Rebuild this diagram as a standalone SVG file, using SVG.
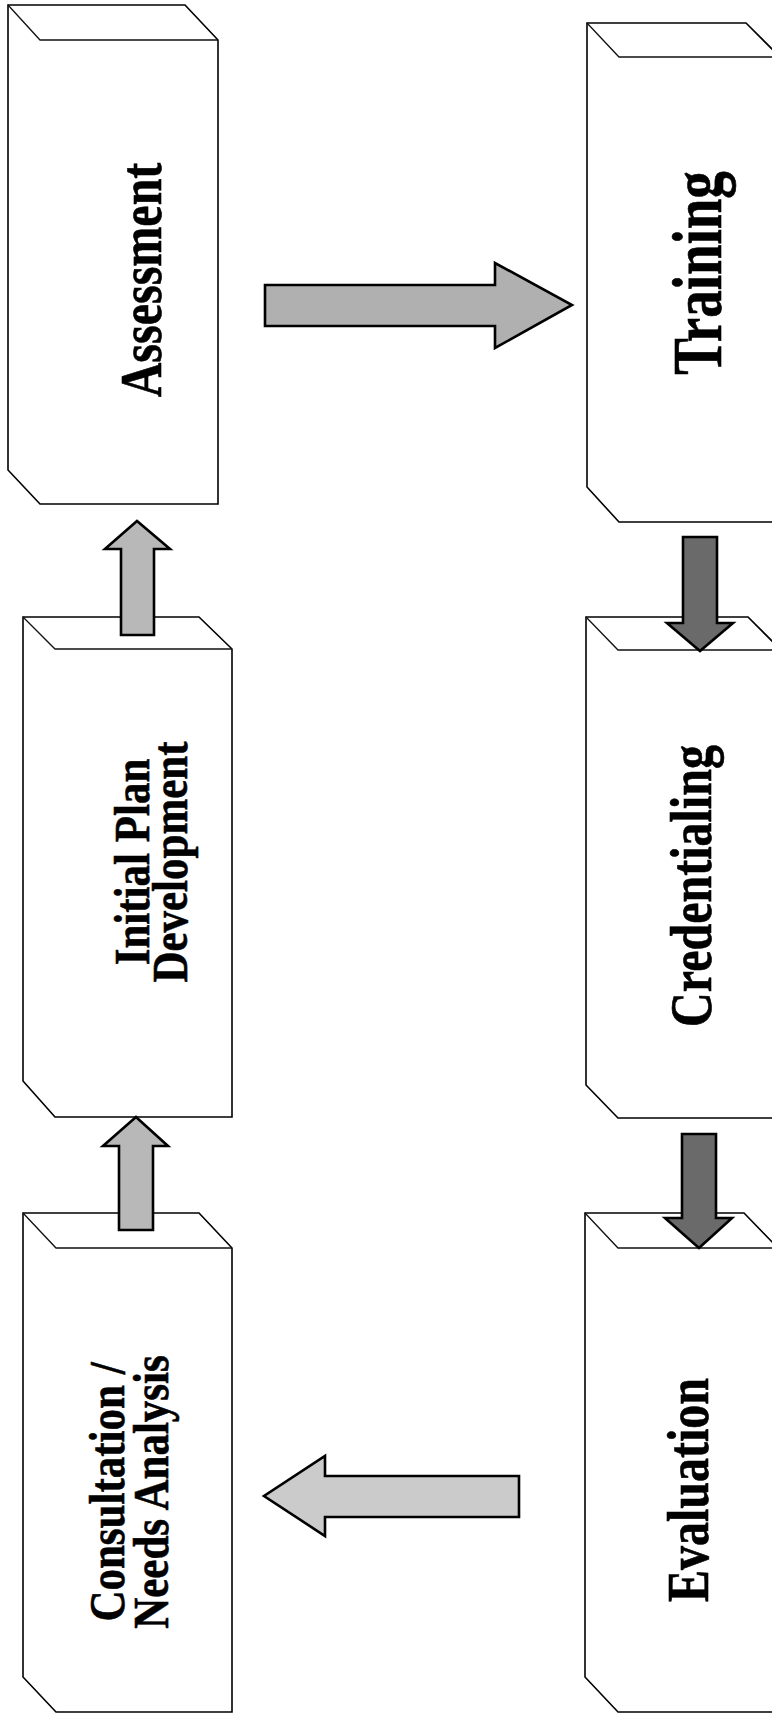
<svg xmlns="http://www.w3.org/2000/svg" width="772" height="1714" viewBox="0 0 772 1714">
<style>
.box{fill:#ffffff;stroke:#000;stroke-width:1.6;stroke-linejoin:miter}
.edge{fill:none;stroke:#111;stroke-width:1.3}
.lbl{font-family:"Liberation Serif","Times New Roman",serif;font-weight:bold;fill:#000;stroke:#000;stroke-width:0.5;text-anchor:middle}
.arr{stroke:#000;stroke-width:2.6;stroke-linejoin:miter}
.light{fill:#b8b8b8}
.mid{fill:#b0b0b0}
.dark{fill:#6a6a6a}
.pale{fill:#cbcbcb}
</style>
<rect width="772" height="1714" fill="#ffffff"/>
<g id="node-assessment">
<path class="box" d="M8,5 H185 L218,40 V504 H40 L8,470 Z"/>
<path class="edge" d="M8,5 L40,40 H218"/>
<text class="lbl" font-size="48" transform="translate(161,280) rotate(-90) scale(1,1.25)">Assessment</text>
</g>
<g id="node-initial-plan">
<path class="box" d="M23,617 H199 L232,649 V1117 H55 L23,1081 Z"/>
<path class="edge" d="M23,617 L55,649 H232"/>
<text class="lbl" font-size="43" transform="translate(149,862) rotate(-90) scale(1,1.2)">Initial Plan</text>
<text class="lbl" font-size="43" transform="translate(187,862) rotate(-90) scale(1,1.2)">Development</text>
</g>
<g id="node-consultation">
<path class="box" d="M23,1213 H199 L232,1248 V1712 H56 L23,1677 Z"/>
<path class="edge" d="M23,1213 L56,1248 H232"/>
<text class="lbl" font-size="43" transform="translate(124,1492) rotate(-90) scale(1,1.2)">Consultation /</text>
<text class="lbl" font-size="43" transform="translate(168,1492) rotate(-90) scale(1,1.2)">Needs Analysis</text>
</g>
<g id="node-training">
<path class="box" d="M587,23 H746 L780,57 V522 H619 L587,487 Z"/>
<path class="edge" d="M587,23 L619,57 H780"/>
<text class="lbl" font-size="55" transform="translate(721,273) rotate(-90) scale(1,1.25)">Training</text>
</g>
<g id="node-credentialing">
<path class="box" d="M586,617 H748 L781,650 V1118 H618 L586,1085 Z"/>
<path class="edge" d="M586,617 L618,650 H781"/>
<text class="lbl" font-size="48" transform="translate(711,886) rotate(-90) scale(1,1.25)">Credentialing</text>
</g>
<g id="node-evaluation">
<path class="box" d="M585,1213 H744 L778,1248 V1712 H618 L585,1677 Z"/>
<path class="edge" d="M585,1213 L618,1248 H778"/>
<text class="lbl" font-size="48" transform="translate(708,1490) rotate(-90) scale(1,1.25)">Evaluation</text>
</g>
<g id="connectors">
<path class="arr mid" d="M265,285 H495 V263 L572,305 L495,348 V326 H265 Z"/>
<path class="arr light" d="M121,635 V549 H105 L137,521 L170,549 H154 V635 Z"/>
<path class="arr light" d="M119,1230 V1146 H103 L136,1117 L168,1146 H153 V1230 Z"/>
<path class="arr dark" d="M683,537 H717 V623 H733 L700,651 L667,623 H683 Z"/>
<path class="arr dark" d="M682,1134 H716 V1218 H732 L699,1248 L665,1218 H682 Z"/>
<path class="arr pale" d="M519,1476 V1517 H325 V1536 L264,1496 L325,1456 V1476 Z"/>
</g>
</svg>
